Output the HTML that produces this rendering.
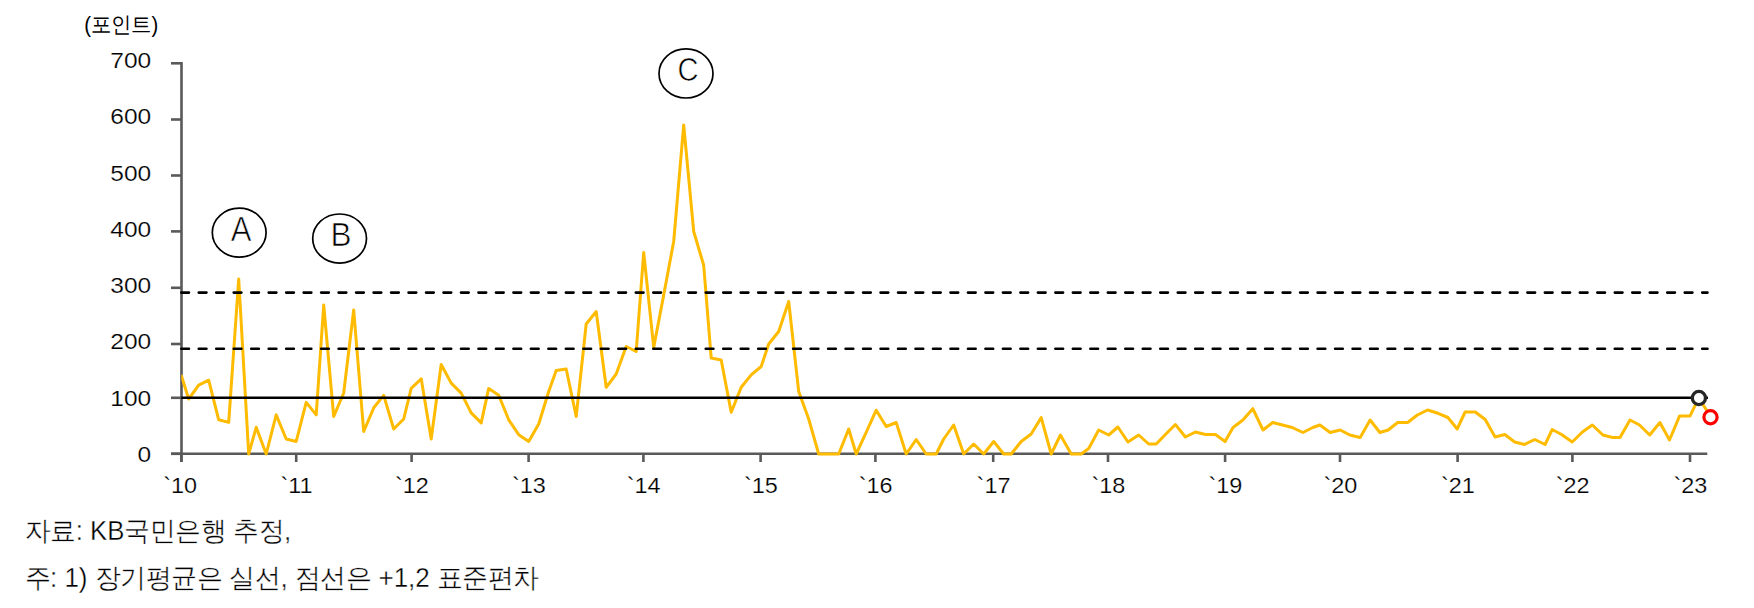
<!DOCTYPE html>
<html><head><meta charset="utf-8"><style>
html,body{margin:0;padding:0;background:#fff;}
body{width:1754px;height:608px;overflow:hidden;position:relative;}
svg{position:absolute;left:0;top:0;}
</style></head><body>
<svg width="1754" height="608" viewBox="0 0 1754 608">
<g font-family="Liberation Sans, sans-serif" fill="#000">
<text transform="translate(84.3,32.3) scale(0.925,1)" font-size="22">(포인트)</text>
</g>
<g stroke="#595959" stroke-width="2.6" fill="none">
<line x1="181.5" y1="62.1" x2="181.5" y2="462"/>
<line x1="171" y1="453.8" x2="1707.3" y2="453.8"/>
<line x1="171" y1="63.3" x2="182" y2="63.3"/><line x1="171" y1="119.5" x2="182" y2="119.5"/><line x1="171" y1="175.5" x2="182" y2="175.5"/><line x1="171" y1="231.4" x2="182" y2="231.4"/><line x1="171" y1="287.8" x2="182" y2="287.8"/><line x1="171" y1="344.0" x2="182" y2="344.0"/><line x1="171" y1="397.8" x2="182" y2="397.8"/><line x1="171" y1="453.8" x2="182" y2="453.8"/>
<line x1="181.3" y1="453" x2="181.3" y2="462"/><line x1="296.2" y1="453" x2="296.2" y2="462"/><line x1="411.6" y1="453" x2="411.6" y2="462"/><line x1="528.6" y1="453" x2="528.6" y2="462"/><line x1="643.4" y1="453" x2="643.4" y2="462"/><line x1="760.6" y1="453" x2="760.6" y2="462"/><line x1="875.4" y1="453" x2="875.4" y2="462"/><line x1="993.2" y1="453" x2="993.2" y2="462"/><line x1="1108.0" y1="453" x2="1108.0" y2="462"/><line x1="1225.1" y1="453" x2="1225.1" y2="462"/><line x1="1340.0" y1="453" x2="1340.0" y2="462"/><line x1="1457.6" y1="453" x2="1457.6" y2="462"/><line x1="1572.4" y1="453" x2="1572.4" y2="462"/><line x1="1690.0" y1="453" x2="1690.0" y2="462"/>
</g>
<g font-family="Liberation Sans, sans-serif" font-size="22" fill="#000" stroke="#fff" stroke-width="0.2" text-anchor="end"><text transform="translate(151.2,67.8) scale(1.115,1)">700</text><text transform="translate(151.2,123.6) scale(1.115,1)">600</text><text transform="translate(151.2,181.1) scale(1.115,1)">500</text><text transform="translate(151.2,237.3) scale(1.115,1)">400</text><text transform="translate(151.2,292.9) scale(1.115,1)">300</text><text transform="translate(151.2,348.7) scale(1.115,1)">200</text><text transform="translate(151.2,406.4) scale(1.115,1)">100</text><text transform="translate(151.2,462.2) scale(1.115,1)">0</text></g>
<g font-family="Liberation Sans, sans-serif" font-size="22.5" fill="#000" stroke="#fff" stroke-width="0.2" text-anchor="middle"><text transform="translate(180.1,493) scale(1.04,1)">`10</text><text transform="translate(296.5,493) scale(1.04,1)">`11</text><text transform="translate(411.9,493) scale(1.04,1)">`12</text><text transform="translate(528.9,493) scale(1.04,1)">`13</text><text transform="translate(643.7,493) scale(1.04,1)">`14</text><text transform="translate(760.9,493) scale(1.04,1)">`15</text><text transform="translate(875.7,493) scale(1.04,1)">`16</text><text transform="translate(993.5,493) scale(1.04,1)">`17</text><text transform="translate(1108.3,493) scale(1.04,1)">`18</text><text transform="translate(1225.4,493) scale(1.04,1)">`19</text><text transform="translate(1340.3,493) scale(1.04,1)">`20</text><text transform="translate(1457.9,493) scale(1.04,1)">`21</text><text transform="translate(1572.7,493) scale(1.04,1)">`22</text><text transform="translate(1690.3,493) scale(1.04,1)">`23</text></g>
<defs><clipPath id="cp"><rect x="181.3" y="0" width="1600" height="608"/></clipPath></defs><polyline clip-path="url(#cp)" points="181.5,376.0 188.7,399.0 198.7,385.2 208.7,380.2 218.7,419.8 228.7,422.4 238.7,279.0 248.7,454.0 256.2,427.3 266.2,454.0 276.2,414.9 286.2,439.0 296.2,441.5 306.2,402.4 316.2,414.9 323.7,305.0 333.7,416.5 343.7,393.0 353.7,310.0 363.7,431.5 373.7,407.8 383.7,395.4 393.7,429.0 403.7,419.0 411.2,388.4 421.2,378.8 431.2,439.0 441.2,364.5 451.2,383.1 461.2,393.1 471.2,412.9 481.2,422.9 488.7,388.4 498.7,395.2 508.7,419.8 518.7,434.7 528.7,441.5 538.7,424.0 548.7,391.5 556.2,370.6 566.2,369.0 576.2,416.5 586.2,324.0 596.2,311.5 606.2,387.3 616.2,374.0 626.2,346.5 636.2,351.5 643.7,252.5 653.7,347.4 663.7,295.0 673.7,241.5 683.7,125.0 693.7,231.5 703.7,265.3 711.2,358.0 721.2,360.0 731.2,412.3 741.2,387.3 751.2,374.9 761.2,366.5 768.7,344.0 778.7,331.5 788.7,301.5 798.7,391.5 808.7,419.0 818.7,454.0 828.7,454.0 838.7,454.0 848.7,429.0 856.2,454.0 866.2,432.4 876.2,410.2 886.2,426.5 896.2,422.5 906.2,454.0 916.2,439.5 926.2,454.0 936.2,454.0 943.7,439.0 953.7,425.0 963.7,454.0 973.7,444.0 983.7,454.0 993.7,441.5 1003.7,454.0 1011.2,454.0 1021.2,441.5 1031.2,434.0 1041.2,417.6 1051.2,454.0 1060.4,435.0 1071.2,454.0 1081.2,454.0 1088.7,448.5 1098.7,430.0 1108.7,435.0 1117.9,427.0 1127.9,442.0 1138.7,435.0 1148.7,444.0 1156.2,444.0 1165.4,434.5 1175.4,424.5 1185.4,437.0 1195.4,432.0 1205.4,434.5 1215.4,434.5 1225.1,441.5 1233.0,427.5 1242.9,420.0 1252.8,408.7 1263.0,430.0 1272.8,422.5 1282.4,425.0 1292.2,427.5 1302.9,432.5 1312.8,427.5 1319.9,425.0 1330.1,432.5 1340.3,430.0 1349.8,435.0 1360.2,437.5 1370.1,420.0 1379.9,432.5 1388.2,430.0 1397.7,422.5 1407.6,422.5 1417.4,415.0 1427.6,410.0 1438.0,413.3 1447.9,417.5 1457.2,429.0 1465.1,412.0 1475.3,412.0 1485.2,419.5 1495.1,437.0 1504.8,434.5 1514.7,442.0 1524.5,444.5 1534.7,439.5 1545.1,444.5 1552.2,429.5 1561.5,434.5 1572.2,442.0 1582.4,432.0 1592.3,425.0 1602.9,435.0 1612.5,437.5 1620.0,437.5 1630.0,420.0 1639.5,425.0 1649.7,435.0 1659.9,422.5 1669.5,440.0 1679.6,415.9 1690.1,415.9 1698.7,397.8 1710.5,416.5" fill="none" stroke="#FFBB00" stroke-width="3" stroke-linejoin="round" stroke-linecap="round"/>
<g stroke="#000" stroke-width="2.6" fill="none">
<line x1="181.3" y1="292.6" x2="1707.5" y2="292.6" stroke-dasharray="7.7 9.782" stroke-dashoffset="0.03" stroke-linecap="round"/>
<line x1="181.3" y1="348.7" x2="1707.5" y2="348.7" stroke-dasharray="7.7 9.782" stroke-dashoffset="0.03" stroke-linecap="round"/>
<line x1="181.3" y1="397.8" x2="1708" y2="397.8"/>
</g>
<circle cx="1698.9" cy="398" r="6.6" fill="#fff" stroke="#262626" stroke-width="3.3"/>
<circle cx="1710.5" cy="417.2" r="6.6" fill="#fff" stroke="#FF0000" stroke-width="3.2"/>
<g fill="#fff" stroke="#000" stroke-width="1.7">
<ellipse cx="239.2" cy="232.6" rx="26.9" ry="24.5"/>
<ellipse cx="339.6" cy="238.6" rx="26.9" ry="24.6"/>
<ellipse cx="686" cy="73.4" rx="27" ry="24.6"/>
</g>
<g font-family="Liberation Sans, sans-serif" fill="#000" stroke="#fff" stroke-width="0.7" text-anchor="middle">
<text transform="translate(241.1,241) scale(0.88,1)" font-size="35.3">A</text>
<text transform="translate(341,246.3) scale(0.94,1)" font-size="33.5">B</text>
<text transform="translate(688,80.5) scale(0.87,1)" font-size="33.5">C</text>
</g>
<g font-family="Liberation Sans, sans-serif" fill="#000" stroke="#fff" stroke-width="0.35" font-size="27">
<text transform="translate(25,540) scale(0.955,1)">자료: KB국민은행 추정,</text>
<text transform="translate(24.5,587) scale(0.962,1)">주: 1) 장기평균은 실선, 점선은 +1,2 표준편차</text>
</g>
</svg>
</body></html>
